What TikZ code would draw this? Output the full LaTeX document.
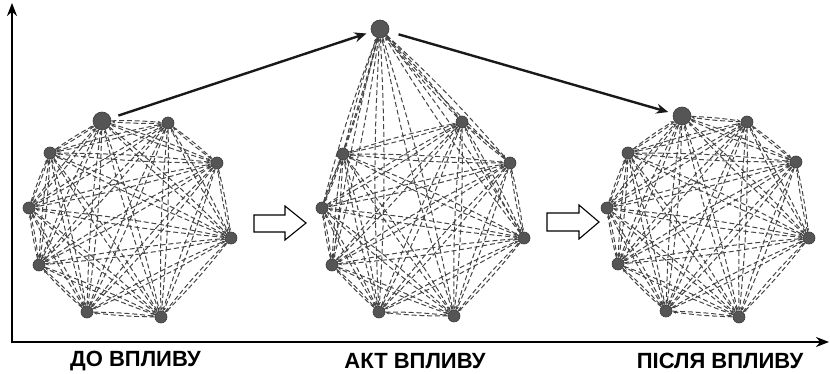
\documentclass[tikz,border=0pt]{standalone}
\usepackage{fontspec}
\setmainfont{Liberation Sans}
\usetikzlibrary{arrows.meta,backgrounds}

\definecolor{vertex}{HTML}{555555}
\definecolor{vertexrim}{HTML}{3A3A3A}
\definecolor{link}{HTML}{444444}

\tikzset{
  vtx/.style={circle, fill=vertex, draw=vertexrim, line width=0.6pt, inner sep=0pt, minimum size=12pt},
  bigvtx/.style={vtx, minimum size=18pt},
  link/.style={draw=link, line width=1pt, dash pattern=on 5pt off 2.8pt,
    -{Stealth[length=3.4pt,width=2.8pt]}, shorten >=0.5pt, bend left=3},
  axis/.style={line width=2.8pt, -{Stealth[length=13pt,width=10pt]}},
  jump/.style={line width=2.4pt, draw=black!90, -{Stealth[length=12pt,width=10pt]}},
  hollow/.style={draw=black, line width=1.1pt, fill=white, line join=miter},
  caption/.style={font=\bfseries\fontsize{22}{24}\selectfont, inner sep=0pt}
}

\begin{document}
\begin{tikzpicture}[x=1pt,y=-1pt]
\useasboundingbox (0,0) rectangle (830,374);

% axes
\coordinate (origin) at (12,342);
\coordinate (ytop) at (12,3);
\coordinate (xend) at (829,342);
\draw[axis] ([yshift=-1.4pt]origin) -- (ytop);
\draw[axis] ([xshift=-1.4pt]origin) -- (xend);

% three states of the network
\foreach \g/\pts in {
  1/{(102,121),(168,123),(217,163),(231,238),(161,317),(87,312),(39,265),(29,208),(50,153)},
  2/{(380,29),(462,122),(510,163),(524,238),(454,316),(379,312),(332,265),(322,208),(343,154)},
  3/{(682,116),(747,122),(796,162),(809,238),(739,317),(666,311),(618,264),(607,208),(628,153)}}{
  \foreach \p [count=\k from 0] in \pts {
    \ifnum\k=0
      \node[bigvtx] (g\g n\k) at \p {};
    \else
      \node[vtx] (g\g n\k) at \p {};
    \fi
  }
}

% every vertex is linked to every other one in both directions
\begin{scope}[on background layer]
\foreach \g in {1,2,3}{
  \foreach \i in {0,...,8}{
    \foreach \j in {0,...,8}{
      \ifnum\i=\j\else
        \draw[link] (g\g n\i) to (g\g n\j);
      \fi
    }
  }
}
\end{scope}

% the acting vertex moves out and comes back
\draw[jump, shorten <=8pt, shorten >=5pt] (g1n0) -- (g2n0);
\draw[jump, shorten <=10pt, shorten >=5pt] (g2n0) -- (g3n0);

% hollow block arrows between the states
\draw[hollow] (254,215) -- (285,215) -- (285,206) -- (306,223) -- (285,240) -- (285,232) -- (254,232) -- cycle;
\draw[hollow] (547,213) -- (579,213) -- (579,205) -- (599,222) -- (579,239) -- (579,231) -- (547,231) -- cycle;

% captions
\node[caption] (cap1) at (135.5,361) {ДО ВПЛИВУ};
\node[caption] (cap2) at (415,361) {АКТ ВПЛИВУ};
\node[caption] (cap3) at (720,361) {ПІСЛЯ ВПЛИВУ};
\end{tikzpicture}
\end{document}
